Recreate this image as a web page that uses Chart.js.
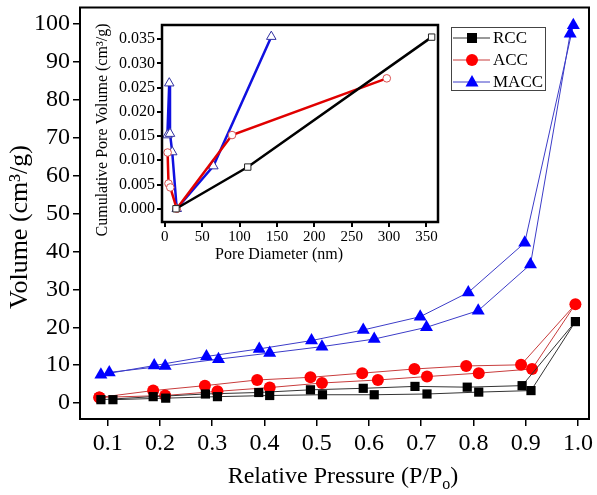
<!DOCTYPE html>
<html>
<head>
<meta charset="utf-8">
<script src="https://cdn.jsdelivr.net/npm/chart.js"></script>
<style>
  html, body { margin: 0; padding: 0; background: #fff; }
  #wrap { position: relative; width: 597px; height: 495px; }
  #main { position: absolute; left: 0; top: 0; }
  #inset { position: absolute; left: 0; top: 0; }
</style>
</head>
<body>
<div id="wrap">
  <canvas id="main" width="597" height="495"></canvas>
  <canvas id="inset" width="460" height="270"></canvas>
</div>
<script>
// ---------- Main chart data (N2 isotherms: adsorption then desorption) ----------
const seriesNames = ['RCC', 'ACC', 'MACC'];

const rccPressure = [0.11, 0.211, 0.31, 0.41, 0.511, 0.61, 0.711, 0.81, 0.91, 0.995,
                     0.893, 0.788, 0.688, 0.589, 0.488, 0.389, 0.287, 0.187, 0.087];
const rccVolume   = [0.9, 1.3, 1.7, 2.0, 2.2, 2.2, 2.4, 2.9, 3.3, 21.5,
                     4.6, 4.2, 4.4, 3.9, 3.5, 2.8, 2.4, 1.7, 0.9];

const accPressure = [0.084, 0.21, 0.31, 0.41, 0.51, 0.617, 0.711, 0.81, 0.912, 0.995,
                     0.891, 0.786, 0.687, 0.587, 0.488, 0.386, 0.286, 0.187, 0.084];
const accVolume   = [1.5, 2.0, 3.1, 4.1, 5.3, 6.1, 7.0, 7.9, 9.0, 26.1,
                     10.1, 9.8, 9.0, 7.9, 6.8, 6.1, 4.6, 3.3, 1.5];

const maccPressure = [0.103, 0.21, 0.312, 0.41, 0.51, 0.61, 0.71, 0.809, 0.909, 0.985,
                      0.991, 0.898, 0.79, 0.698, 0.589, 0.49, 0.39, 0.289, 0.189, 0.087];
const maccVolume   = [8.1, 9.8, 11.6, 13.2, 14.9, 16.9, 20.0, 24.4, 36.6, 97.5,
                      99.7, 42.3, 29.2, 22.8, 19.3, 16.5, 14.3, 12.3, 9.9, 7.5];

const xTicks = [0.1, 0.2, 0.3, 0.4, 0.5, 0.6, 0.7, 0.8, 0.9, 1.0];
const yTicks = [0, 10, 20, 30, 40, 50, 60, 70, 80, 90, 100];

// ---------- Inset data (cumulative pore volume vs pore diameter) ----------
const rccDiameter = [15, 111, 357];
const rccPoreVol  = [0.0, 0.0086, 0.0354];
const accDiameter = [3.8, 5, 7.4, 16, 90, 297];
const accPoreVol  = [0.0116, 0.0052, 0.0044, 0.0, 0.0152, 0.0269];
const maccDiameter = [3.5, 6, 7, 10, 16, 65, 142.5];
const maccPoreVol  = [0.0152, 0.0259, 0.0155, 0.0117, 0.0, 0.0088, 0.0355];

const insetXTicks = [0, 50, 100, 150, 200, 250, 300, 350];
const insetYTicks = [0, 0.005, 0.010, 0.015, 0.020, 0.025, 0.030, 0.035];

const SERIF = '"Liberation Serif", "Times New Roman", serif';

function pts(xs, ys) { return xs.map((x, i) => ({ x: x, y: ys[i] })); }

// ---------- plugins ----------
const frameMain = {
  id: 'frameMain',
  afterDraw(chart) {
    const a = chart.chartArea, c = chart.ctx;
    c.save();
    c.strokeStyle = '#000';
    c.lineWidth = 2;
    c.strokeRect(a.left, a.top, a.right - a.left, a.bottom - a.top);
    // axis titles
    c.fillStyle = '#000';
    c.font = '26px ' + SERIF;
    c.textAlign = 'center';
    c.textBaseline = 'middle';
    c.translate(20, 227);
    c.rotate(-Math.PI / 2);
    c.fillText('Volume (cm\u00B3/g)', 0, 0);
    c.restore();

    c.save();
    c.fillStyle = '#000';
    c.textBaseline = 'alphabetic';
    c.textAlign = 'left';
    const big = '24px ' + SERIF, small = '16px ' + SERIF;
    const p1 = 'Relative Pressure (P/P', p2 = 'o', p3 = ')';
    c.font = big; const w1 = c.measureText(p1).width, w3 = c.measureText(p3).width;
    c.font = small; const w2 = c.measureText(p2).width;
    let x = 343 - (w1 + w2 + w3) / 2;
    const base = 483;
    c.font = big; c.fillText(p1, x, base); x += w1;
    c.font = small; c.fillText(p2, x, base + 6); x += w2;
    c.font = big; c.fillText(p3, x, base);
    c.restore();

    // legend
    c.save();
    c.strokeStyle = '#444';
    c.lineWidth = 1;
    c.strokeRect(451.5, 27.5, 94, 63);
    const rows = [38, 60, 82];
    chart.data.datasets.forEach((ds, i) => {
      const y = rows[i];
      c.strokeStyle = ds.borderColor;
      c.lineWidth = 1;
      c.beginPath(); c.moveTo(453, y); c.lineTo(490, y); c.stroke();
      c.fillStyle = ds.pointBackgroundColor;
      c.beginPath();
      if (ds.pointStyle === 'rect') {
        c.rect(472 - 5, y - 5, 10, 10);
      } else if (ds.pointStyle === 'circle') {
        c.arc(472, y, 6, 0, Math.PI * 2);
      } else {
        c.moveTo(472, y - 7); c.lineTo(472 + 6.5, y + 4.5); c.lineTo(472 - 6.5, y + 4.5); c.closePath();
      }
      c.fill();
      c.fillStyle = '#000';
      c.font = '17px ' + SERIF;
      c.textAlign = 'left';
      c.textBaseline = 'middle';
      c.fillText(seriesNames[i], 493, y + 1);
    });
    c.restore();
  }
};

const frameInset = {
  id: 'frameInset',
  afterDraw(chart) {
    const a = chart.chartArea, c = chart.ctx;
    c.save();
    c.strokeStyle = '#000';
    c.lineWidth = 2.5;
    c.strokeRect(a.left, a.top, a.right - a.left, a.bottom - a.top);
    c.fillStyle = '#000';
    c.font = '16px ' + SERIF;
    c.textAlign = 'center';
    c.textBaseline = 'middle';
    c.fillText('Pore Diameter (nm)', 279, 255);
    c.translate(103, 130);
    c.rotate(-Math.PI / 2);
    c.fillText('Cumulative Pore Volume (cm\u00B3/g)', 0, 0);
    c.restore();
  }
};

// ---------- main chart ----------
function axisCommon(size, tickLen, pad) {
  return {
    grid: { display: true, drawOnChartArea: false, drawTicks: true, tickLength: tickLen, color: '#000', lineWidth: 1.5 },
    border: { display: false },
    ticks: { font: { family: SERIF, size: size }, color: '#000', padding: pad, autoSkip: false, maxRotation: 0 }
  };
}

const mx = axisCommon(24, 7, 3);
mx.type = 'linear'; mx.min = 0.047; mx.max = 1.021;
mx.afterBuildTicks = s => { s.ticks = xTicks.map(v => ({ value: v })); };
mx.afterFit = s => { s.height = 76; s.paddingLeft = 0; s.paddingRight = 0; };
mx.ticks.callback = v => Number(v).toFixed(1);

const my = axisCommon(24, 7, 3);
my.type = 'linear'; my.min = -4.2; my.max = 104.4;
my.afterBuildTicks = s => { s.ticks = yTicks.map(v => ({ value: v })); };
my.afterFit = s => { s.width = 80; s.paddingTop = 0; s.paddingBottom = 0; };
my.ticks.callback = v => String(Math.round(v));

new Chart(document.getElementById('main'), {
  type: 'scatter',
  data: {
    datasets: [
      { label: seriesNames[0], data: pts(rccPressure, rccVolume), showLine: true,
        borderColor: '#333333', borderWidth: 1, pointStyle: 'rect', pointRadius: 6.5,
        pointBackgroundColor: '#000000', pointBorderColor: '#000000', pointBorderWidth: 0, clip: false },
      { label: seriesNames[1], data: pts(accPressure, accVolume), showLine: true,
        borderColor: '#c83c3c', borderWidth: 1, pointStyle: 'circle', pointRadius: 6,
        pointBackgroundColor: '#ff0000', pointBorderColor: '#ff0000', pointBorderWidth: 0, clip: false },
      { label: seriesNames[2], data: pts(maccPressure, maccVolume), showLine: true,
        borderColor: '#3c3cc8', borderWidth: 1, pointStyle: 'triangle', pointRadius: 7.5,
        pointBackgroundColor: '#0000ff', pointBorderColor: '#0000ff', pointBorderWidth: 0, clip: false }
    ]
  },
  options: {
    responsive: false, animation: false, events: [],
    layout: { padding: { top: 7, right: 8, left: 0, bottom: 0 } },
    plugins: { legend: { display: false }, tooltip: { enabled: false } },
    scales: { x: mx, y: my }
  },
  plugins: [frameMain]
});

// ---------- inset chart ----------
const ix = axisCommon(15, 5, 1);
ix.type = 'linear'; ix.min = -3.7; ix.max = 365.5;
ix.afterBuildTicks = s => { s.ticks = insetXTicks.map(v => ({ value: v })); };
ix.afterFit = s => { s.height = 48; s.paddingLeft = 0; s.paddingRight = 0; };
ix.ticks.callback = v => String(Math.round(v));
ix.grid.lineWidth = 2;

const iy = axisCommon(16, 5, 2);
iy.type = 'linear'; iy.min = -0.00273; iy.max = 0.0379;
iy.afterBuildTicks = s => { s.ticks = insetYTicks.map(v => ({ value: v })); };
iy.afterFit = s => { s.width = 162; s.paddingTop = 0; s.paddingBottom = 0; };
iy.ticks.callback = v => Number(v).toFixed(3);
iy.grid.lineWidth = 2;

new Chart(document.getElementById('inset'), {
  type: 'scatter',
  data: {
    datasets: [
      { label: seriesNames[0], data: pts(rccDiameter, rccPoreVol), showLine: true,
        borderColor: '#000000', borderWidth: 2.5, pointStyle: 'rect', pointRadius: 4.5,
        pointBackgroundColor: '#ffffff', pointBorderColor: '#222222', pointBorderWidth: 1, clip: false },
      { label: seriesNames[1], data: pts(accDiameter, accPoreVol), showLine: true,
        borderColor: '#e00000', borderWidth: 2.5, pointStyle: 'circle', pointRadius: 3.8,
        pointBackgroundColor: '#ffffff', pointBorderColor: '#d85050', pointBorderWidth: 1, clip: false },
      { label: seriesNames[2], data: pts(maccDiameter, maccPoreVol), showLine: true,
        borderColor: '#1010e0', borderWidth: 2.5, pointStyle: 'triangle', pointRadius: 5.5,
        pointBackgroundColor: '#ffffff', pointBorderColor: '#3030a0', pointBorderWidth: 1, clip: false }
    ]
  },
  options: {
    responsive: false, animation: false, events: [],
    layout: { padding: { top: 25, right: 22, left: 0, bottom: 0 } },
    plugins: { legend: { display: false }, tooltip: { enabled: false } },
    scales: { x: ix, y: iy }
  },
  plugins: [frameInset]
});
</script>
</body>
</html>
